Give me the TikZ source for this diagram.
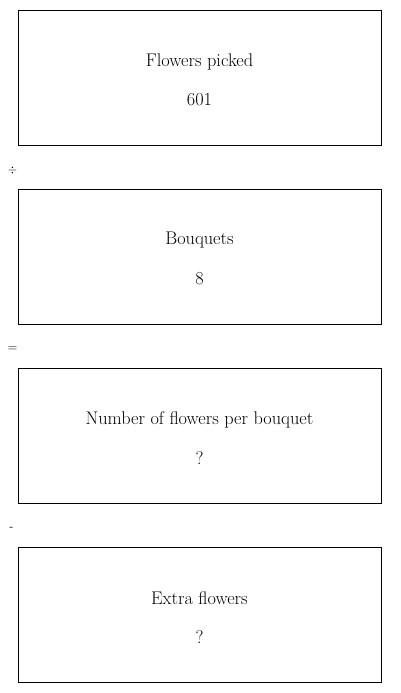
\documentclass[tikz,border=0pt]{standalone}
\begin{document}
\begin{tikzpicture}[x=1pt,y=-1pt,
  box/.style={draw, line width=0.9pt, minimum width=363pt, minimum height=135pt, anchor=north west, inner sep=0pt},
  lbl/.style={font=\fontsize{18.3}{22}\selectfont, anchor=center},
  op/.style={font=\fontsize{13}{15}\selectfont, anchor=center}]
\useasboundingbox (0,0) rectangle (400,693);
\node[box] (b1) at (18,10) {};
\node[box] (b2) at (18,189) {};
\node[box] (b3) at (18,368) {};
\node[box] (b4) at (18,547) {};
\node[lbl] (t1) at (199.5,61.5) {Flowers picked};
\node[lbl] (v1) at (199.5,100) {601};
\node[lbl] (t2) at (199.5,240.5) {Bouquets};
\node[lbl] (v2) at (199.5,279) {8};
\node[lbl] (t3) at (199.5,419.5) {Number of flowers per bouquet};
\node[lbl] (v3) at (199.5,458) {?};
\node[lbl] (t4) at (199.5,598.5) {Extra flowers};
\node[lbl] (v4) at (199.5,637) {?};
\node[op] (o1) at (12.5,170) {$\div$};
\node[op] (o2) at (12.5,349) {=};
\node[op] (o3) at (11.5,529) {-};
\end{tikzpicture}
\end{document}
